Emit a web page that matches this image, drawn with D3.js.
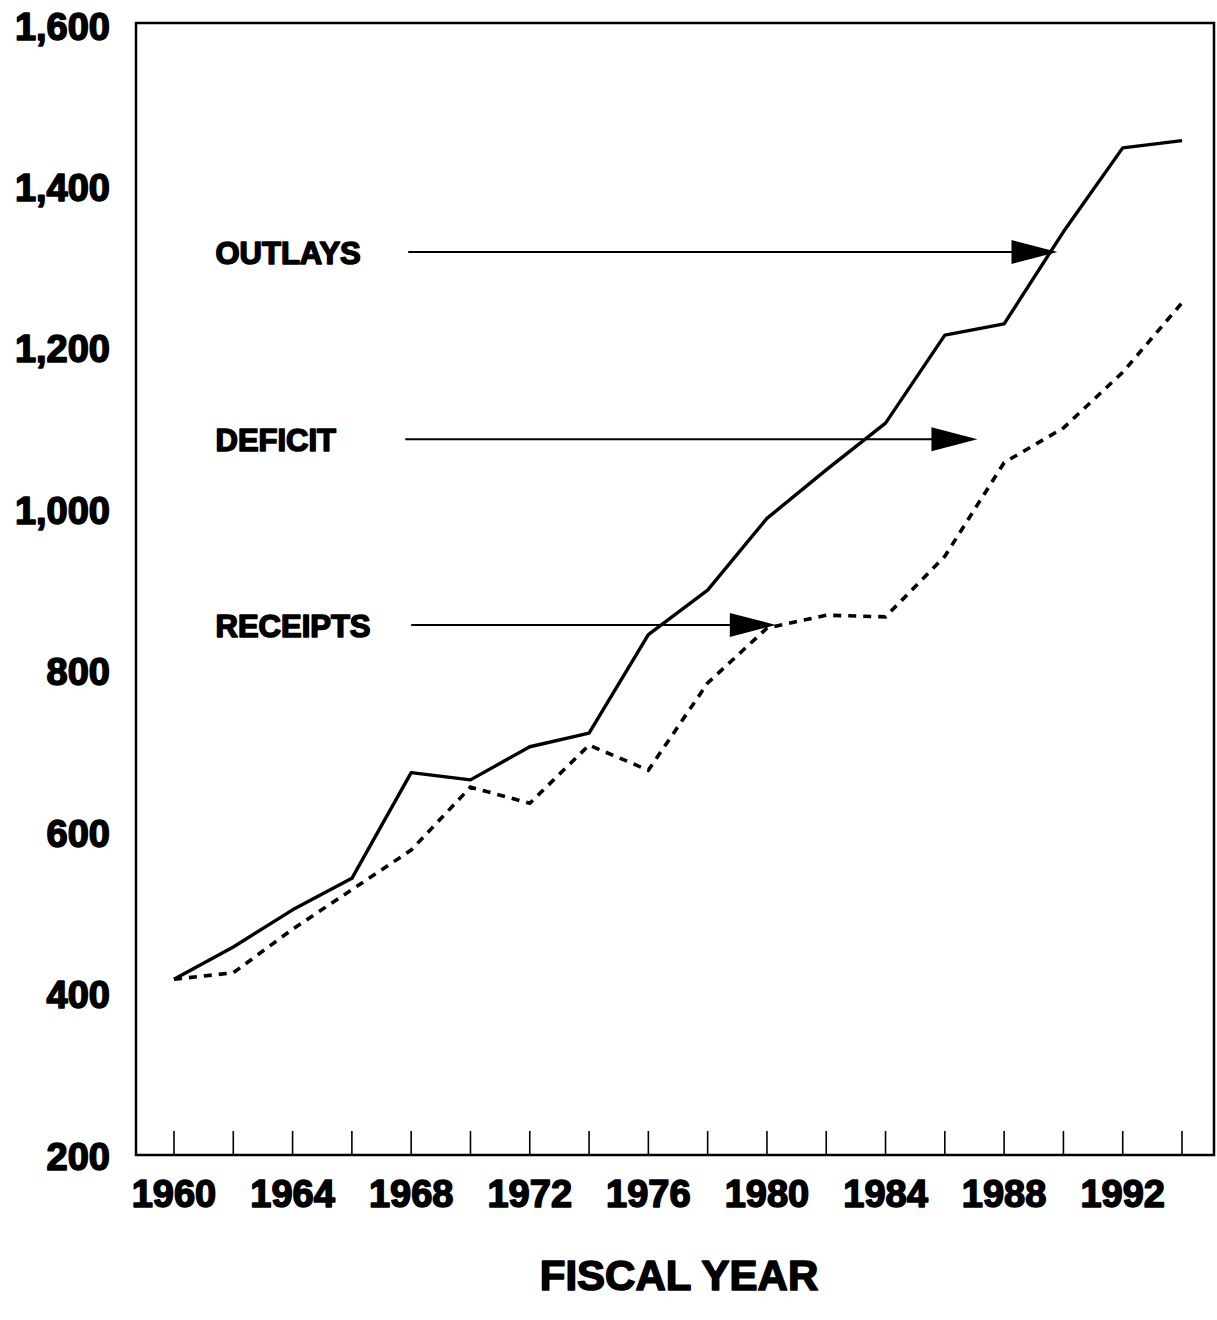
<!DOCTYPE html>
<html lang="en">
<head>
    <meta charset="UTF-8">
    <title>Outlays, Receipts and Deficit by Fiscal Year</title>
    <script src="https://d3js.org/d3.v7.min.js"></script>
    <style>
        body {
            margin: 0;
            background: #fff;
        }
        svg text {
            font-family: "Liberation Sans", Arial, sans-serif;
            font-weight: bold;
            fill: #000;
            stroke: #000;
            stroke-width: 1.6px;
            stroke-linejoin: round;
        }
    </style>
</head>
<body>
    <svg width="1217" height="1320"></svg>

    <script>
        // Data (billions, fiscal years)
        const years = [1960, 1962, 1964, 1966, 1968, 1970, 1972, 1974, 1976, 1978, 1980, 1982, 1984, 1986, 1988, 1990, 1992, 1994];
        const outlays = [419, 459, 505, 544, 675, 666, 707, 724, 846, 901, 990, 1050, 1108, 1217, 1231, 1345, 1449, 1458];
        const receipts = [419, 427, 481, 530, 579, 657, 637, 709, 678, 786, 854, 870, 868, 943, 1059, 1102, 1171, 1257];

        // Axis ticks
        const yTicks = [200, 400, 600, 800, 1000, 1200, 1400, 1600];
        const yTickLabels = ["200", "400", "600", "800", "1,000", "1,200", "1,400", "1,600"];
        const xTickYears = [1960, 1962, 1964, 1966, 1968, 1970, 1972, 1974, 1976, 1978, 1980, 1982, 1984, 1986, 1988, 1990, 1992, 1994];
        const xLabelYears = [1960, 1964, 1968, 1972, 1976, 1980, 1984, 1988, 1992];

        // Arrow annotations (value level, start year, end year)
        const arrowLabels = ["OUTLAYS", "DEFICIT", "RECEIPTS"];
        const arrowValues = [1320, 1088, 858];
        const arrowStart = [1967.9, 1967.8, 1968.0];
        const arrowEnd = [1989.8, 1987.1, 1980.3];
        const arrowLabelYear = 1961.4;

        const svg = d3.select("svg");

        // Frame of the plot area
        const frame = {left: 136, right: 1214, top: 23, bottom: 1155};

        const x = d3.scaleLinear().domain([1960, 1994]).range([174, 1182]);
        const y = d3.scaleLinear().domain([200, 1600]).range([1156, 26]);

        svg.append("rect")
            .attr("x", frame.left)
            .attr("y", frame.top)
            .attr("width", frame.right - frame.left)
            .attr("height", frame.bottom - frame.top)
            .attr("fill", "none")
            .attr("stroke", "#000")
            .attr("stroke-width", 2.5);

        // Tick marks going up from the bottom edge
        svg.selectAll(".xtick")
            .data(xTickYears)
            .enter().append("line")
            .attr("class", "xtick")
            .attr("x1", d => x(d))
            .attr("x2", d => x(d))
            .attr("y1", frame.bottom)
            .attr("y2", frame.bottom - 24)
            .attr("stroke", "#000")
            .attr("stroke-width", 1.6);

        // Year labels
        svg.selectAll(".xlabel")
            .data(xLabelYears)
            .enter().append("text")
            .attr("class", "xlabel")
            .attr("x", d => x(d))
            .attr("y", 1207)
            .attr("text-anchor", "middle")
            .attr("font-size", "38px")
            .text(d => d);

        // Value labels on the left
        svg.selectAll(".ylabel")
            .data(yTicks)
            .enter().append("text")
            .attr("class", "ylabel")
            .attr("x", 110)
            .attr("y", d => y(d) + 13.5)
            .attr("text-anchor", "end")
            .attr("font-size", "38px")
            .text((d, i) => yTickLabels[i]);

        // Lines
        const seriesLine = d3.line().x((d, i) => x(years[i])).y(d => y(d));

        svg.append("path")
            .datum(outlays)
            .attr("d", seriesLine)
            .attr("fill", "none")
            .attr("stroke", "#000")
            .attr("stroke-width", 3.4)
            .attr("stroke-linejoin", "round");

        svg.append("path")
            .datum(receipts)
            .attr("d", seriesLine)
            .attr("fill", "none")
            .attr("stroke", "#000")
            .attr("stroke-width", 3.6)
            .attr("stroke-dasharray", "8,7");

        // Arrows with labels
        arrowLabels.forEach((label, i) => {
            const ay = y(arrowValues[i]);
            const tip = x(arrowEnd[i]);
            svg.append("line")
                .attr("x1", x(arrowStart[i]))
                .attr("x2", tip - 40)
                .attr("y1", ay)
                .attr("y2", ay)
                .attr("stroke", "#000")
                .attr("stroke-width", 2);
            svg.append("path")
                .attr("d", `M${tip},${ay} L${tip - 46},${ay - 12} L${tip - 46},${ay + 12} Z`)
                .attr("fill", "#000");
            svg.append("text")
                .attr("x", x(arrowLabelYear))
                .attr("y", ay + 12)
                .attr("font-size", "31px")
                .text(label);
        });

        // Axis title
        svg.append("text")
            .attr("x", 679)
            .attr("y", 1290)
            .attr("text-anchor", "middle")
            .attr("font-size", "42px")
            .text("FISCAL YEAR");
    </script>
</body>
</html>
